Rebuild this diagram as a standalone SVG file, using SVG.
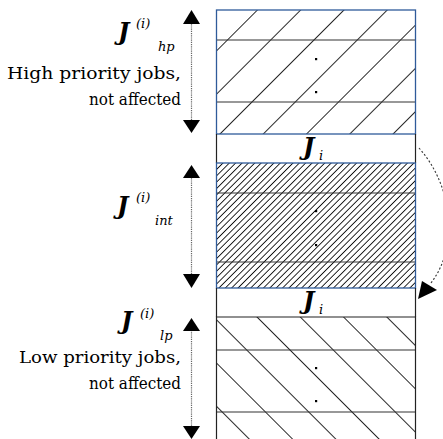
<svg xmlns="http://www.w3.org/2000/svg" width="443" height="439" viewBox="0 0 443 439">
<style>
.t{font-family:"DejaVu Serif","Liberation Serif",serif;font-size:17px;fill:#000}
.j{font-family:"DejaVu Serif","Liberation Serif",serif;font-style:italic;font-weight:bold;font-size:24px;fill:#000}
.s{font-family:"DejaVu Serif","Liberation Serif",serif;font-style:italic;font-size:13px;fill:#000}
.blue{fill:none;stroke:#2f5b9a;stroke-width:1.3}
.blk{fill:none;stroke:#222;stroke-width:1.2}
.hl{stroke:#333;stroke-width:1.1}
.vd{stroke:#666;stroke-width:1.2;stroke-dasharray:1.2 1}
.dot{fill:#000}
</style>
<defs>
<pattern id="hpHatch" patternUnits="userSpaceOnUse" width="30.6" height="10" patternTransform="rotate(45 216 10)">
<rect x="0" y="0" width="0.9" height="10" fill="#111"/>
</pattern>
<pattern id="intHatch" patternUnits="userSpaceOnUse" width="4.5" height="10" patternTransform="rotate(45 216 163)">
<rect x="0" y="0" width="0.9" height="10" fill="#111"/>
</pattern>
<pattern id="lpHatch" patternUnits="userSpaceOnUse" width="30.6" height="10" patternTransform="rotate(-45 217 317)">
<rect x="0" y="0" width="0.9" height="10" fill="#111"/>
</pattern>
</defs>
<rect width="443" height="439" fill="#fff"/>

<g id="hp-block">
<rect x="216.5" y="10" width="199" height="124" fill="url(#hpHatch)"/>
<line class="hl" x1="216.5" y1="40" x2="415.5" y2="40"/>
<line class="hl" x1="216.5" y1="102" x2="415.5" y2="102"/>
<rect class="blue" x="216.5" y="10" width="199" height="124"/>
<rect class="dot" x="315" y="58" width="2.2" height="2.2"/>
<rect class="dot" x="315" y="91" width="2.2" height="2.2"/>
</g>

<g id="ji-cell-1">
<line class="blk" x1="216.5" y1="134" x2="216.5" y2="163"/>
<line class="blk" x1="415.5" y1="134" x2="415.5" y2="163"/>
<text class="j" x="303" y="155" font-size="20">J</text>
<text class="s" x="319" y="160" font-size="10">i</text>
</g>

<g id="int-block">
<rect x="216.5" y="163" width="199" height="125" fill="url(#intHatch)"/>
<line class="hl" x1="216.5" y1="193" x2="415.5" y2="193"/>
<line class="hl" x1="216.5" y1="262" x2="415.5" y2="262"/>
<rect class="blue" x="216.5" y="163" width="199" height="125"/>
<rect class="dot" x="315" y="210" width="2.2" height="2.2"/>
<rect class="dot" x="315" y="244" width="2.2" height="2.2"/>
</g>

<g id="ji-cell-2">
<line class="blk" x1="216.5" y1="288" x2="216.5" y2="317"/>
<line class="blk" x1="415.5" y1="288" x2="415.5" y2="317"/>
<text class="j" x="303" y="309" font-size="20">J</text>
<text class="s" x="319" y="314" font-size="10">i</text>
</g>

<g id="lp-block">
<rect x="216.5" y="317" width="199" height="124" fill="url(#lpHatch)"/>
<line class="hl" x1="216.5" y1="350" x2="415.5" y2="350"/>
<line class="hl" x1="216.5" y1="412" x2="415.5" y2="412"/>
<path class="blk" d="M216.5,441 V317 H415.5 V441"/>
<rect class="dot" x="315" y="367" width="2.2" height="2.2"/>
<rect class="dot" x="315" y="400" width="2.2" height="2.2"/>
</g>

<g id="label-hp">
<text class="j" x="118" y="40">J</text>
<text class="s" x="136" y="28">(i)</text>
<text class="s" x="158" y="51">hp</text>
<text class="t" x="181" y="79" text-anchor="end" textLength="174" lengthAdjust="spacingAndGlyphs">High priority jobs,</text>
<text class="t" x="181" y="105" text-anchor="end" textLength="92" lengthAdjust="spacingAndGlyphs">not affected</text>
</g>

<g id="label-int">
<text class="j" x="117" y="214">J</text>
<text class="s" x="136" y="202">(i)</text>
<text class="s" x="155" y="225">int</text>
</g>

<g id="label-lp">
<text class="j" x="121" y="329">J</text>
<text class="s" x="140" y="318">(i)</text>
<text class="s" x="160" y="340">lp</text>
<text class="t" x="181" y="363" text-anchor="end" textLength="162" lengthAdjust="spacingAndGlyphs">Low priority jobs,</text>
<text class="t" x="181" y="389" text-anchor="end" textLength="92" lengthAdjust="spacingAndGlyphs">not affected</text>
</g>

<g id="connectors">
<line class="vd" x1="191.5" y1="22" x2="191.5" y2="122"/>
<polygon points="191.5,10 183,24 200,24"/>
<polygon points="191.5,133 183,120 200,120"/>
<line class="vd" x1="191.5" y1="176" x2="191.5" y2="275"/>
<polygon points="191.5,165 183,178 200,178"/>
<polygon points="191.5,288 183,274 200,274"/>
<line class="vd" x1="191.5" y1="330" x2="191.5" y2="428"/>
<polygon points="191.5,318 183,331 200,331"/>
<polygon points="191.5,439 183,426 200,426"/>
<path d="M419,148 C452,185 460,245 431,283" fill="none" stroke="#333" stroke-width="1.1" stroke-dasharray="2 2"/>
<polygon points="418,299 422,281 437,290"/>
</g>
</svg>
